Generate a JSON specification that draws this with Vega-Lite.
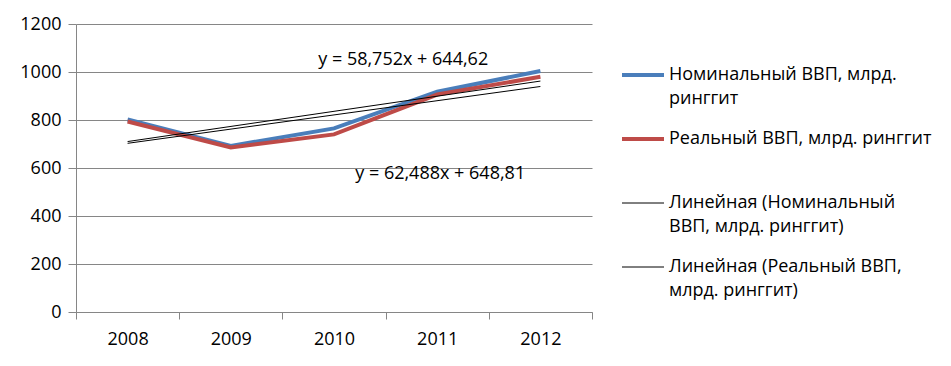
{
  "$schema": "https://vega.github.io/schema/vega-lite/v6.json",
  "width": 516,
  "height": 288,
  "autosize": {"type": "none"},
  "padding": {"left": 76, "top": 24, "right": 359, "bottom": 54},
  "background": "white",
  "config": {
    "font": "Open Sans",
    "view": {"stroke": null},
    "axis": {"labelFont": "Open Sans", "labelFontSize": 18, "labelColor": "#000000", "domainColor": "#868686", "tickColor": "#868686", "gridColor": "#868686", "title": null}
  },
  "data": {
    "values": [
      {"year": 2008, "series": "Номинальный ВВП, млрд. ринггит", "value": 802},
      {"year": 2009, "series": "Номинальный ВВП, млрд. ринггит", "value": 692},
      {"year": 2010, "series": "Номинальный ВВП, млрд. ринггит", "value": 765},
      {"year": 2011, "series": "Номинальный ВВП, млрд. ринггит", "value": 918},
      {"year": 2012, "series": "Номинальный ВВП, млрд. ринггит", "value": 1004},
      {"year": 2008, "series": "Реальный ВВП, млрд. ринггит", "value": 794},
      {"year": 2009, "series": "Реальный ВВП, млрд. ринггит", "value": 686},
      {"year": 2010, "series": "Реальный ВВП, млрд. ринггит", "value": 740},
      {"year": 2011, "series": "Реальный ВВП, млрд. ринггит", "value": 906},
      {"year": 2012, "series": "Реальный ВВП, млрд. ринггит", "value": 980}
    ]
  },
  "encoding": {
    "x": {
      "field": "year", "type": "ordinal", "bandPosition": 0.5,
      "scale": {"type": "band", "paddingInner": 0, "paddingOuter": 0},
      "axis": {"tickBand": "extent", "tickSize": 7, "labelPadding": 11, "labelAngle": 0, "grid": false}
    },
    "y": {
      "field": "value", "type": "quantitative",
      "scale": {"domain": [0, 1200], "nice": false},
      "axis": {"values": [0, 200, 400, 600, 800, 1000, 1200], "format": "d", "grid": true, "tickSize": 8, "labelPadding": 7}
    }
  },
  "layer": [
    {
      "mark": {"type": "line", "strokeWidth": 4},
      "encoding": {
        "color": {
          "field": "series", "type": "nominal",
          "scale": {
            "domain": ["Номинальный ВВП, млрд. ринггит", "Реальный ВВП, млрд. ринггит", "Линейная (Номинальный ВВП, млрд. ринггит)", "Линейная (Реальный ВВП, млрд. ринггит)"],
            "range": ["#4A7EBB", "#BE4B48", "#000000", "#000000"]
          },
          "legend": {
            "title": null,
            "orient": "none",
            "legendX": 558,
            "legendY": 42,
            "symbolType": "stroke",
            "symbolSize": 1764,
            "symbolStrokeWidth": 4,
            "labelFont": "Open Sans",
            "labelFontSize": 18,
            "labelColor": "#000000",
            "labelLimit": 400,
            "labelOffset": 17,
            "rowPadding": 22,
            "labelExpr": "datum.label == 'Номинальный ВВП, млрд. ринггит' ? ['Номинальный ВВП, млрд.', 'ринггит'] : datum.label == 'Реальный ВВП, млрд. ринггит' ? ['Реальный ВВП, млрд. ринггит', ' '] : datum.label == 'Линейная (Номинальный ВВП, млрд. ринггит)' ? ['Линейная (Номинальный', 'ВВП, млрд. ринггит)'] : ['Линейная (Реальный ВВП,', 'млрд. ринггит)']",
            "encode": {
              "symbols": {"update": {"strokeWidth": {"signal": "indexof(['Номинальный ВВП, млрд. ринггит', 'Реальный ВВП, млрд. ринггит'], datum.value) >= 0 ? 4 : 1"}}},
              "labels": {"update": {"lineHeight": {"value": 24}}}
            }
          }
        }
      }
    },
    {
      "transform": [
        {"regression": "value", "on": "year", "groupby": ["series"]},
        {"calculate": "'Линейная (' + datum.series + ')'", "as": "series"}
      ],
      "mark": {"type": "line", "strokeWidth": 1},
      "encoding": {
        "color": {"field": "series", "type": "nominal"}
      }
    },
    {
      "data": {"values": [{"year": 2011, "value": 1050, "label": "y = 58,752x + 644,62"}]},
      "mark": {"type": "text", "fontSize": 18, "font": "Open Sans", "color": "#000000", "dx": -34, "baseline": "middle"},
      "encoding": {"text": {"field": "label"}}
    },
    {
      "data": {"values": [{"year": 2011, "value": 575, "label": "y = 62,488x + 648,81"}]},
      "mark": {"type": "text", "fontSize": 18, "font": "Open Sans", "color": "#000000", "dx": 3, "baseline": "middle"},
      "encoding": {"text": {"field": "label"}}
    }
  ]
}
